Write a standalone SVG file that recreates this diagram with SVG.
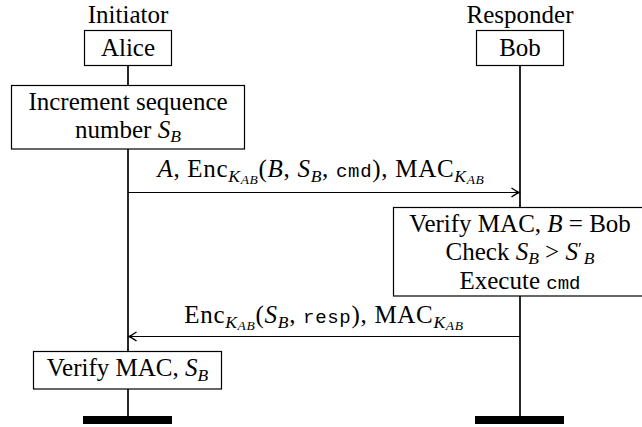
<svg xmlns="http://www.w3.org/2000/svg" width="642" height="427" viewBox="0 0 642 427">
<style>
text{font-family:"Liberation Serif","Times New Roman",serif;font-size:25px;fill:#000}
.c{text-anchor:middle}
.i{font-style:italic}
.s{font-size:17.5px}
.ss{font-size:13.5px}
.m{font-family:"Liberation Mono","Courier New",monospace;font-size:19px}
.lbl{letter-spacing:0.7px}
.box{fill:#fff;stroke:#000;stroke-width:1.2}
.life{stroke:#000;stroke-width:1.7;fill:none}
.msg{stroke:#000;stroke-width:1.2;fill:none}
</style>
<defs>
<marker id="ah" viewBox="-9 -6 11 12" markerWidth="11" markerHeight="12" refX="0" refY="0" orient="auto" markerUnits="userSpaceOnUse">
<path d="M-7.5,-4.5 Q-2.5,-1 0,0 Q-2.5,1 -7.5,4.5" fill="none" stroke="#000" stroke-width="1.4"/>
</marker>
</defs>
<g id="lifelines">
<line class="life" x1="128" y1="65.5" x2="128" y2="417"/>
<line class="life" x1="520" y1="65.5" x2="520" y2="417"/>
</g>
<g id="alice">
<text class="c" x="128" y="22.5">Initiator</text>
<rect class="box" x="84.5" y="30.5" width="87" height="35"/>
<text class="c" x="128" y="56">Alice</text>
</g>
<g id="bob">
<text class="c" x="520" y="22.5">Responder</text>
<rect class="box" x="476.5" y="30.5" width="87" height="35"/>
<text class="c" x="520" y="56">Bob</text>
</g>
<g id="increment">
<rect class="box" x="11.5" y="85.5" width="233" height="63.5"/>
<text class="c" x="128" y="110">Increment sequence</text>
<text class="c" x="128" y="137.5">number <tspan class="i">S</tspan><tspan class="i s" dy="4.5">B</tspan></text>
</g>
<g id="verify-bob">
<rect class="box" x="393.5" y="207.5" width="254" height="88.5"/>
<text class="c" x="520" y="231.5">Verify MAC, <tspan class="i">B</tspan> = Bob</text>
<text class="c" x="520" y="260">Check <tspan class="i">S</tspan><tspan class="i s" dy="3.5">B</tspan><tspan dy="-3.5"> &gt; </tspan><tspan class="i">S</tspan><tspan class="s" dy="-6.5">′</tspan><tspan class="i s" dx="2" dy="10">B</tspan></text>
<text class="c" x="520" y="289">Execute <tspan class="m">cmd</tspan></text>
</g>
<g id="verify-alice">
<rect class="box" x="33.5" y="351.5" width="188" height="37.5"/>
<text class="c" x="127.5" y="376">Verify MAC, <tspan class="i">S</tspan><tspan class="i s" dy="4.5">B</tspan></text>
</g>
<g id="ends">
<rect x="83" y="416" width="89" height="8" fill="#000"/>
<rect x="475" y="416" width="89" height="8" fill="#000"/>
</g>
<g id="connectors">
<line class="msg" x1="128" y1="192.5" x2="519" y2="192.5" marker-end="url(#ah)"/>
<text class="c lbl" x="321" y="177"><tspan class="i">A</tspan>, Enc<tspan class="i s" dy="4.5">K</tspan><tspan class="i ss" dy="2.5">AB</tspan><tspan dy="-7">(</tspan><tspan class="i">B</tspan>, <tspan class="i">S</tspan><tspan class="i s" dy="4.5">B</tspan><tspan dy="-4.5">, </tspan><tspan class="m">cmd</tspan>), MAC<tspan class="i s" dy="4.5">K</tspan><tspan class="i ss" dy="2.5">AB</tspan></text>
<line class="msg" x1="520" y1="336.5" x2="129" y2="336.5" marker-end="url(#ah)"/>
<text class="c lbl" x="324" y="323">Enc<tspan class="i s" dy="4.5">K</tspan><tspan class="i ss" dy="2.5">AB</tspan><tspan dy="-7">(</tspan><tspan class="i">S</tspan><tspan class="i s" dy="4.5">B</tspan><tspan dy="-4.5">, </tspan><tspan class="m">resp</tspan>), MAC<tspan class="i s" dy="4.5">K</tspan><tspan class="i ss" dy="2.5">AB</tspan></text>
</g>
</svg>
